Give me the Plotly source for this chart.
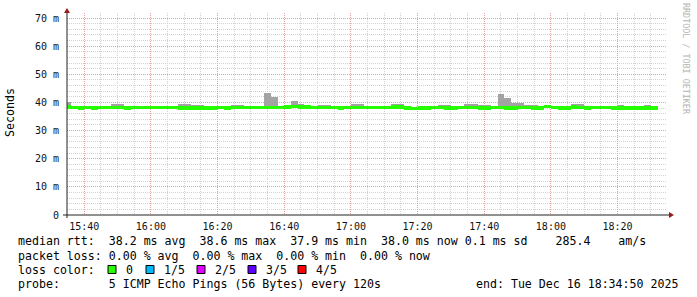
import plotly.graph_objects as go
import pandas as pd

# ---------------- data ----------------
RANGE_START = "2025-12-16 15:34:50"
RANGE_END = "2025-12-16 18:34:50"
FIRST_STEP = "2025-12-16 15:34:00"
STEP_S = 120

median_ms = [38.3, 38.2, 37.95, 38.2, 37.95, 38.2, 38.2, 38.25, 38.2, 38.0,
             38.2, 38.2, 38.2, 38.25, 38.2, 38.2, 38.2, 37.95, 38.0, 38.1,
             37.95, 37.95, 38.15, 38.2, 37.95, 38.2, 38.2, 38.2, 38.2, 38.2,
             38.2, 38.2, 38.2, 38.5, 38.6, 38.5, 38.4, 38.2, 38.2, 38.2,
             38.2, 37.95, 38.2, 38.2, 38.2, 38.2, 38.2, 38.2, 38.2, 38.45,
             38.3, 38.15, 37.9, 38.05, 38.0, 38.2, 38.2, 37.95, 38.0, 38.2,
             38.2, 38.2, 37.95, 37.95, 38.2, 38.2, 37.95, 38.0, 38.2, 38.2,
             37.95, 38.0, 38.55, 38.2, 37.95, 38.0, 38.5, 38.2, 37.95, 38.2,
             38.2, 38.2, 38.0, 38.0, 38.0, 38.0, 38.0, 38.0, 38.0]

smoke_max_ms = [40.0, 38.8, 38.3, 38.9, 38.3, 38.9, 38.5, 39.6, 39.6, 38.35,
                38.5, 38.5, 38.5, 38.6, 38.5, 38.5, 38.5, 39.6, 39.3, 39.1,
                39.0, 38.3, 38.9, 38.5, 38.3, 39.2, 39.2, 38.5, 38.5, 38.9,
                43.4, 41.9, 38.5, 38.8, 40.5, 39.5, 38.7, 38.5, 39.2, 39.2,
                38.5, 38.3, 38.9, 39.5, 39.3, 38.5, 38.5, 38.5, 38.5, 39.6,
                39.3, 38.5, 38.2, 38.4, 38.35, 38.5, 39.2, 39.0, 38.35, 38.5,
                39.6, 39.3, 39.0, 39.0, 38.5, 43.0, 41.6, 39.8, 39.8, 39.0,
                39.0, 38.35, 38.9, 38.5, 38.3, 38.35, 39.6, 39.3, 38.3, 38.5,
                38.5, 38.5, 38.35, 39.0, 38.35, 38.35, 38.35, 39.0, 38.35]

smoke_min_ms = [38.0, 37.9, 37.7, 37.9, 37.7, 37.9, 37.9, 37.95, 37.9, 37.75,
                37.9, 37.9, 37.9, 37.95, 37.9, 37.9, 37.9, 37.7, 37.75, 37.8,
                37.7, 37.7, 37.85, 37.9, 37.7, 37.9, 37.9, 37.9, 37.9, 37.9,
                37.9, 37.9, 37.9, 38.2, 38.3, 38.2, 38.1, 37.9, 37.9, 37.9,
                37.9, 37.7, 37.9, 37.9, 37.9, 37.9, 37.9, 37.9, 37.9, 38.15,
                38.0, 37.85, 37.65, 37.75, 37.7, 37.9, 37.9, 37.7, 37.75, 37.9,
                37.9, 37.9, 37.7, 37.7, 37.9, 37.9, 37.7, 37.75, 37.9, 37.9,
                37.7, 37.75, 38.25, 37.9, 37.7, 37.75, 38.2, 37.9, 37.7, 37.9,
                37.9, 37.9, 37.75, 37.75, 37.75, 37.75, 37.75, 37.75, 37.75]

y_tick_vals = [0, 10, 20, 30, 40, 50, 60, 70]
y_tick_text = ["0", "10 m", "20 m", "30 m", "40 m", "50 m", "60 m", "70 m"]
x_tick0 = "2025-12-16 15:40:00"

legend_lines = [
    "median rtt:  38.2 ms avg  38.6 ms max  37.9 ms min  38.0 ms now 0.1 ms sd    285.4    am/s",
    "packet loss: 0.00 % avg  0.00 % max  0.00 % min  0.00 % now",
    "loss color:",
    "probe:       5 ICMP Echo Pings (56 Bytes) every 120s",
]
loss_labels = ["0", "1/5", "2/5", "3/5", "4/5"]
loss_colors = ["#26ff00", "#00b8ff", "#dd00ff", "#5e00ff", "#ff0000"]
end_text = "end: Tue Dec 16 18:34:50 2025"
y_title = "Seconds"
watermark = "RRDTOOL / TOBI OETIKER"

# ---------------- layout helpers ----------------
W, H = 697, 297
PL, PR, PT, PB = 67, 667, 13, 215   # plot area pixel box
Y_MAX = 71.8
MONO = "DejaVu Sans Mono"


def px(xp):
    return (xp - PL) / (PR - PL)


def py(yp):
    return (PB - yp) / (PB - PT)


times = pd.date_range(FIRST_STEP, periods=len(median_ms), freq=f"{STEP_S}s")
BAND = 0.65

fig = go.Figure()
fig.add_trace(go.Bar(
    x=times, base=smoke_min_ms,
    y=[hi - lo for hi, lo in zip(smoke_max_ms, smoke_min_ms)],
    width=STEP_S * 1000, offset=0,
    marker=dict(color="#a3a3a3", line=dict(width=0)),
    hoverinfo="skip", showlegend=False,
))
fig.add_trace(go.Bar(
    x=times, base=[m - BAND for m in median_ms],
    y=[2 * BAND] * len(median_ms),
    width=STEP_S * 1000, offset=0,
    marker=dict(color=loss_colors[0], line=dict(width=0)),
    hoverinfo="skip", showlegend=False,
))

grid_major = "#e6a0a0"
grid_minor = "#d2d2d2"
fig.update_layout(
    width=W, height=H,
    margin=dict(l=PL, r=W - PR, t=PT, b=H - PB),
    paper_bgcolor="white", plot_bgcolor="white",
    barmode="overlay", bargap=0,
    showlegend=False,
    font=dict(family=MONO, size=10, color="#000"),
    xaxis=dict(
        type="date", range=[RANGE_START, RANGE_END],
        tickmode="linear", tick0=x_tick0, dtick=20 * 60 * 1000,
        tickformat="%H:%M", ticks="", ticklabelstandoff=4,
        showgrid=True, gridcolor=grid_major, griddash="1px,1px", gridwidth=1,
        minor=dict(tickmode="linear", tick0=x_tick0, dtick=5 * 60 * 1000,
                   showgrid=True, gridcolor=grid_minor, griddash="1px,1px",
                   ticks=""),
        showline=False, zeroline=False,
        tickfont=dict(family=MONO, size=10, color="#111"),
    ),
    yaxis=dict(
        range=[0, Y_MAX], tickmode="array",
        tickvals=y_tick_vals, ticktext=y_tick_text, ticks="",
        ticklabelstandoff=7,
        showgrid=True, gridcolor=grid_major, griddash="1px,1px", gridwidth=1,
        minor=dict(tickmode="linear", tick0=0, dtick=2, showgrid=True,
                   gridcolor=grid_minor, griddash="1px,1px", ticks=""),
        showline=False, zeroline=False,
        tickfont=dict(family=MONO, size=10, color="#111"),
    ),
)

shapes = []
axis_col = "#222"
arrow_col = "#9b1b1b"
# axis lines
shapes.append(dict(type="line", xref="paper", yref="paper",
                   x0=px(63), x1=px(670), y0=0, y1=0,
                   line=dict(color=axis_col, width=1)))
shapes.append(dict(type="line", xref="paper", yref="paper",
                   x0=0, x1=0, y0=py(218), y1=py(12),
                   line=dict(color=axis_col, width=1)))
# arrows
shapes.append(dict(type="path", xref="paper", yref="paper",
                   path=f"M {px(64)} {py(13)} L {px(70)} {py(13)} L {px(67)} {py(8)} Z",
                   fillcolor=arrow_col, line=dict(width=0)))
shapes.append(dict(type="path", xref="paper", yref="paper",
                   path=f"M {px(669)} {py(212)} L {px(669)} {py(218)} L {px(674)} {py(215)} Z",
                   fillcolor=arrow_col, line=dict(width=0)))

annotations = []
line_y = [241.5, 255.5, 269.5, 283.5]
for txt, yy in zip(legend_lines, line_y):
    annotations.append(dict(text=txt.replace(" ", "&nbsp;"), xref="paper", yref="paper",
                            x=px(16), y=py(yy), xanchor="left", yanchor="middle",
                            showarrow=False,
                            font=dict(family=MONO, size=11.6, color="#000")))
annotations.append(dict(text=end_text.replace(" ", "&nbsp;"), xref="paper", yref="paper",
                        x=px(680), y=py(line_y[3]), xanchor="right", yanchor="middle",
                        showarrow=False,
                        font=dict(family=MONO, size=11.6, color="#000")))

box_x = [108, 146, 197, 248, 298]
for lbl, col, bx in zip(loss_labels, loss_colors, box_x):
    shapes.append(dict(type="rect", xref="paper", yref="paper",
                       x0=px(bx), x1=px(bx + 8), y0=py(line_y[2] + 4), y1=py(line_y[2] - 4),
                       fillcolor=col, line=dict(color="#000", width=1)))
    annotations.append(dict(text=lbl, xref="paper", yref="paper",
                            x=px(bx + 16), y=py(line_y[2]), xanchor="left", yanchor="middle",
                            showarrow=False,
                            font=dict(family=MONO, size=11.6, color="#000")))

annotations.append(dict(text=y_title, xref="paper", yref="paper",
                        x=px(10), y=py(113), xanchor="center", yanchor="middle",
                        textangle=-90, showarrow=False,
                        font=dict(family=MONO, size=11.6, color="#000")))
annotations.append(dict(text=watermark.replace(" ", "&nbsp;"), xref="paper", yref="paper",
                        x=px(686), y=py(59), xanchor="center", yanchor="middle",
                        textangle=90, showarrow=False,
                        font=dict(family=MONO, size=8.4, color="#b4b4b4")))

fig.update_layout(shapes=shapes, annotations=annotations)
fig.write_html("out.html")
